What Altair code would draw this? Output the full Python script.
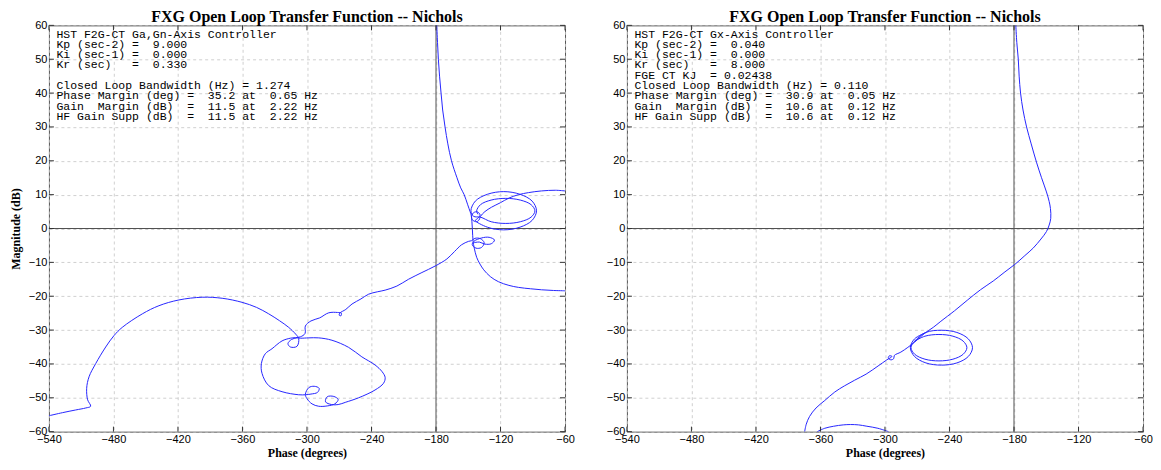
import altair as alt
import pandas as pd

TITLE = "FXG Open Loop Transfer Function -- Nichols"
X_TICKS = [-540, -480, -420, -360, -300, -240, -180, -120, -60]
Y_TICKS = [-60, -50, -40, -30, -20, -10, 0, 10, 20, 30, 40, 50, 60]

LEFT_TEXT_TOP = [
    "HST F2G-CT Ga,Gn-Axis Controller",
    "Kp (sec-2) =  9.000",
    "Ki (sec-1) =  0.000",
    "Kr (sec)   =  0.330",
]
LEFT_TEXT_BOTTOM = [
    "Closed Loop Bandwidth (Hz) = 1.274",
    "Phase Margin (deg) =  35.2 at  0.65 Hz",
    "Gain  Margin (dB)  =  11.5 at  2.22 Hz",
    "HF Gain Supp (dB)  =  11.5 at  2.22 Hz",
]
RIGHT_TEXT = [
    "HST F2G-CT Gx-Axis Controller",
    "Kp (sec-2) =  0.040",
    "Ki (sec-1) =  0.000",
    "Kr (sec)   =  8.000",
    "FGE CT KJ  = 0.02438",
    "Closed Loop Bandwidth (Hz) = 0.110",
    "Phase Margin (deg) =  30.9 at  0.05 Hz",
    "Gain  Margin (dB)  =  10.6 at  0.12 Hz",
    "HF Gain Supp (dB)  =  10.6 at  0.12 Hz",
]

# ---- left panel: (phase deg, magnitude dB) ----
LEFT_TOP = [
    (-179.3, 60.0), (-178.6, 55.0), (-177.8, 50.0), (-176.7, 45.0), (-175.3, 40.0),
    (-173.8, 35.0), (-171.6, 30.0), (-169.0, 25.0), (-165.6, 20.0), (-160.5, 15.0),
    (-157.0, 12.0), (-153.8, 10.0), (-150.5, 7.0), (-148.3, 5.0), (-147.3, 4.0),
    (-146.6, 2.0), (-146.2, 0.0), (-145.9, -2.0), (-145.5, -3.8), (-144.4, -5.8),
    (-142.2, -8.5), (-139.1, -10.5), (-135.6, -12.2), (-129.5, -14.2), (-122.0, -15.7),
    (-112.2, -16.8), (-103.1, -17.4), (-92.0, -17.8), (-81.9, -18.1), (-70.8, -18.3),
    (-60.0, -18.4),
]
LEFT_RES = [
    (-60.0, 11.1), (-69.1, 11.3), (-81.9, 11.1), (-94.0, 10.6), (-103.1, 10.0),
    (-112.1, 9.0), (-120.2, 7.6), (-128.3, 6.3), (-134.5, 5.0), (-138.6, 3.6),
    (-140.0, 2.5), (-142.5, 2.0), (-146.3, 2.6), (-146.8, 3.7), (-145.0, 4.7),
    (-141.5, 4.9), (-139.0, 4.0), (-141.5, 2.9),
    (-143.4, 2.4), (-132.3, 0.4), (-117.0, -0.4), (-101.8, 0.4), (-90.6, 2.4),
    (-86.5, 5.25), (-90.6, 8.1), (-101.8, 10.1), (-117.0, 10.9), (-132.3, 10.1),
    (-143.4, 8.1), (-147.5, 5.25), (-145.0, 3.6),
    (-138.6, 3.35), (-128.7, 2.0), (-115.1, 1.5), (-101.6, 2.0), (-91.6, 3.35),
    (-88.0, 5.2), (-91.6, 7.05), (-101.6, 8.4), (-115.1, 8.9), (-128.7, 8.4),
    (-138.6, 7.05), (-142.2, 5.2), (-141.0, 4.2),
]
LEFT_LONG = [
    (-540.0, -55.3), (-527.5, -54.4), (-515.2, -53.6), (-505.7, -53.0), (-501.2, -52.5),
    (-504.0, -50.6), (-504.9, -47.2), (-502.7, -43.8), (-496.5, -39.9), (-487.2, -35.0),
    (-479.4, -31.6), (-471.8, -29.2), (-453.1, -25.2), (-437.7, -22.8), (-419.1, -21.1),
    (-397.5, -20.3), (-378.9, -20.6), (-360.4, -21.8), (-346.9, -23.3), (-335.6, -25.2),
    (-325.7, -27.2), (-317.0, -29.2), (-310.5, -31.2), (-307.7, -32.5),
    (-309.3, -34.8), (-315.4, -35.0), (-317.7, -34.0), (-314.5, -32.8), (-309.3, -32.3),
    (-306.2, -32.4),
    (-298.3, -32.3), (-289.1, -32.3), (-276.8, -33.0), (-261.3, -35.1), (-249.0, -37.9),
    (-236.7, -40.3), (-230.1, -42.3), (-227.3, -44.0), (-228.8, -45.7), (-236.7, -47.7),
    (-252.0, -50.0), (-263.9, -51.3),
    (-271.0, -52.0), (-277.1, -52.0), (-282.7, -51.2), (-281.2, -49.7), (-275.1, -49.6),
    (-271.0, -50.5), (-274.1, -51.8),
    (-281.2, -52.4), (-289.1, -52.5), (-295.3, -51.8), (-299.9, -50.3), (-301.5, -49.0),
    (-298.3, -47.0), (-293.3, -46.6), (-288.7, -47.2), (-290.2, -48.4), (-296.3, -48.9),
    (-301.3, -49.1),
    (-307.7, -49.1), (-323.2, -48.2), (-335.6, -46.4), (-341.8, -42.8), (-342.4, -39.9),
    (-338.8, -37.0), (-332.5, -35.5), (-323.2, -33.2), (-315.5, -32.4), (-306.2, -32.0),
    (-301.8, -31.0), (-301.5, -28.8), (-296.3, -27.3), (-288.2, -26.4), (-279.8, -24.9),
    (-271.5, -24.8),
    (-268.0, -25.0), (-268.5, -25.8), (-270.0, -25.6), (-269.5, -25.0),
    (-263.9, -23.9), (-258.1, -22.3), (-249.8, -20.8), (-242.7, -19.4), (-234.6, -18.7),
    (-227.3, -18.2), (-216.4, -17.0), (-205.6, -15.0), (-193.1, -13.0), (-180.9, -11.1),
    (-169.9, -9.0), (-162.8, -6.8), (-156.2, -4.8), (-149.8, -3.8), (-147.0, -3.6),
    (-143.8, -2.9), (-138.7, -3.0), (-135.2, -4.2), (-137.7, -5.6), (-142.8, -5.8),
    (-146.3, -4.8), (-144.8, -3.8),
    (-137.7, -2.8), (-130.6, -2.6), (-125.6, -3.4), (-128.6, -4.5), (-134.7, -4.6),
    (-139.7, -4.0), (-144.8, -4.2),
]

# ---- right panel ----
RIGHT_MAIN = [
    (-178.3, 60.0), (-177.4, 55.0), (-176.0, 50.0), (-175.2, 45.0), (-173.9, 40.0),
    (-171.6, 35.0), (-168.3, 30.0), (-164.0, 25.0), (-159.1, 19.6), (-154.4, 15.0),
    (-149.8, 10.8), (-147.3, 8.0), (-146.1, 5.9), (-145.8, 3.0), (-147.3, 1.0),
    (-149.8, -0.9), (-154.9, -3.1), (-162.2, -5.8), (-169.9, -8.0), (-179.2, -10.6),
    (-189.2, -13.0), (-199.3, -15.5), (-211.2, -18.1), (-223.5, -21.2), (-235.3, -24.3),
    (-248.0, -27.4), (-255.1, -29.2), (-263.3, -31.0), (-271.1, -33.2), (-278.7, -35.1),
    (-285.2, -36.5), (-291.3, -37.5),
    (-291.8, -38.4), (-294.3, -38.8), (-296.9, -38.3), (-295.9, -37.6), (-293.5, -37.8),
    (-298.3, -38.8), (-306.4, -40.6), (-317.5, -43.0), (-328.2, -44.8), (-337.8, -46.5),
    (-346.7, -48.3), (-356.0, -50.8), (-364.1, -53.0), (-370.1, -55.5), (-373.2, -57.8),
    (-374.7, -60.0),
]
RIGHT_RES = [
    (-261.9, -30.7), (-272.5, -32.6), (-276.4, -35.2), (-272.5, -37.8), (-261.9, -39.7),
    (-247.5, -40.35), (-233.1, -39.7), (-222.5, -37.8), (-218.6, -35.2), (-222.5, -32.6),
    (-233.1, -30.7), (-247.5, -30.05), (-261.9, -30.7),
    (-272.3, -33.25), (-275.8, -35.2), (-272.3, -37.15), (-262.8, -38.6), (-249.8, -39.1),
    (-236.8, -38.6), (-227.3, -37.15), (-223.8, -35.2), (-227.3, -33.25), (-236.8, -31.8),
    (-249.8, -31.3), (-262.8, -31.8), (-272.3, -33.25),
]
RIGHT_ARC = [
    (-363.0, -60.0), (-356.0, -59.0), (-347.7, -58.4), (-338.8, -58.0), (-332.2, -57.9),
    (-324.6, -58.0), (-316.8, -58.4), (-306.6, -59.0), (-296.7, -60.0),
]

W, H = 517, 407
BLUE = "#2626ff"
DARK = "#505050"
LINE_H = 10.3
TEXT_X, TEXT_Y = 7.5, 3.3


def curve_frame(segments):
    rows = []
    for name, pts in segments:
        for i, (p, m) in enumerate(pts):
            rows.append({"phase": p, "mag": m, "seg": name, "idx": i})
    return pd.DataFrame(rows)


def nbsp(lines):
    return [s.replace(" ", "\u00a0") for s in lines]


def text_block(lines, x, y):
    return alt.Chart(pd.DataFrame({"k": [0]})).mark_text(
        font="Liberation Mono", fontSize=11.5, lineHeight=LINE_H, align="left",
        baseline="top", color="black", text=nbsp(lines)
    ).encode(x=alt.value(x), y=alt.value(y))


def panel(segments, blocks, y_title):
    xs = alt.Scale(domain=[-540, -60], nice=False, zero=False)
    ys = alt.Scale(domain=[-60, 60], nice=False, zero=False)
    x_axis = alt.Axis(values=X_TICKS, title="Phase (degrees)", labelFlush=False,
                      labelPadding=2, titlePadding=3, grid=True, ticks=False,
                      domain=False, format="d")
    if y_title:
        y_axis = alt.Axis(values=Y_TICKS, title=y_title, titlePadding=5.6,
                          labelPadding=2, grid=True, ticks=False, domain=False,
                          format="d")
    else:
        y_axis = alt.Axis(values=Y_TICKS, title=None, labelPadding=2, grid=True,
                          ticks=False, domain=False, format="d")
    X = lambda: alt.X("phase:Q", scale=xs, axis=x_axis)
    Y = lambda: alt.Y("mag:Q", scale=ys, axis=y_axis)

    vline = alt.Chart(pd.DataFrame({"phase": [-180]})).mark_rule(
        color=DARK, strokeWidth=1).encode(x=X())
    hline = alt.Chart(pd.DataFrame({"mag": [0]})).mark_rule(
        color=DARK, strokeWidth=1).encode(y=Y())
    curve = alt.Chart(curve_frame(segments)).mark_line(
        color=BLUE, strokeWidth=1, interpolate="catmull-rom", clip=True
    ).encode(x=X(), y=Y(), detail="seg:N", order="idx:Q")

    xt = pd.DataFrame({"phase": X_TICKS})
    yt = pd.DataFrame({"mag": Y_TICKS})
    tk = dict(color="#333333", strokeWidth=1)
    t_top = alt.Chart(xt).mark_rule(**tk).encode(x=X(), y=alt.value(0), y2=alt.value(5))
    t_bot = alt.Chart(xt).mark_rule(**tk).encode(x=X(), y=alt.value(H), y2=alt.value(H - 5))
    t_left = alt.Chart(yt).mark_rule(**tk).encode(y=Y(), x=alt.value(0), x2=alt.value(5))
    t_right = alt.Chart(yt).mark_rule(**tk).encode(y=Y(), x=alt.value(W), x2=alt.value(W - 5))

    texts = [text_block(lines, x, y) for (lines, x, y) in blocks]

    return alt.layer(vline, hline, curve, t_top, t_bot, t_left, t_right, *texts).properties(
        width=W, height=H,
        title=alt.TitleParams(TITLE, font="Liberation Serif", fontSize=16,
                              fontWeight="bold", color="black", anchor="middle",
                              frame="group", offset=-6),
    )


left = panel([("a", LEFT_TOP), ("b", LEFT_RES), ("c", LEFT_LONG)],
             [(LEFT_TEXT_TOP, TEXT_X, TEXT_Y),
              (LEFT_TEXT_BOTTOM, TEXT_X, TEXT_Y + 5 * LINE_H)],
             "Magnitude (dB)")
right = panel([("a", RIGHT_MAIN), ("b", RIGHT_RES), ("c", RIGHT_ARC)],
              [(RIGHT_TEXT, TEXT_X, TEXT_Y)], None)

chart = alt.hconcat(left, right, spacing=62, bounds="flush").properties(
    padding={"left": 1, "top": 0, "right": 0, "bottom": 0}
).configure_view(
    stroke="#555555", strokeWidth=1
).configure_axis(
    labelFont="Liberation Sans", labelFontSize=11, labelColor="black",
    titleFont="Liberation Serif", titleFontSize=12, titleFontWeight="bold",
    titleColor="black", gridColor="#c4c4c4", gridDash=[3, 3], gridWidth=0.8,
)

chart.save("out.html", embed_options={"renderer": "svg", "actions": False})
